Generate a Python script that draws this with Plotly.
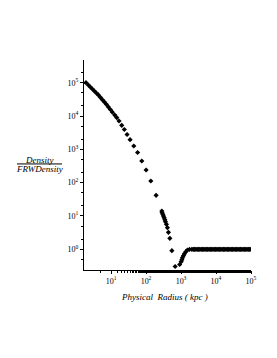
import plotly.graph_objects as go

# Physical radius (kpc) and density ratio
radius_core = [1.92, 2.24, 2.55, 2.92, 3.32, 3.80, 4.33, 4.94, 5.63, 6.43, 7.33, 8.37,
               9.55, 10.9, 12.8, 14.6, 16.9, 20.2, 24.0, 28.7, 35.0, 44.7, 57.4, 75.7,
               100.5, 137, 194]
density_core = [100000, 85300, 74300, 64700, 56300, 49100, 42800, 36500, 30900, 26400,
                22500, 18700, 15700, 13000, 10700, 8900, 7090, 5260, 3940, 2790, 1950,
                1260, 804, 447, 240, 112, 41.8]

radius_edge = [283, 288, 302, 314, 329, 345, 359, 383, 409, 437, 479, 547, 679]
density_edge = [14.1, 12.5, 11.2, 9.98, 8.87, 7.73, 6.73, 5.62, 4.45, 3.24, 2.14, 0.908, 0.305]

radius_rise = [914, 1010, 1057, 1100, 1175, 1254, 1377, 1528, 1745, 2042]
density_rise = [0.350, 0.425, 0.488, 0.560, 0.643, 0.738, 0.848, 0.953, 0.99, 1.0]

radius_flat = [2239, 2441, 2661, 2901, 3162, 3448, 3758, 4097, 4467, 4870, 5309, 5788,
               6310, 6879, 7499, 8175, 8913, 9716, 10593, 11548, 12589, 13725, 14962,
               16312, 17783, 19387, 21135, 23041, 25119, 27384, 29854, 32546, 35481,
               38681, 42170, 45973, 50119, 54639, 59566, 64938, 70795, 77179, 84140,
               91728, 100000]
density_flat = [1.0, 1.0, 1.0, 1.0, 1.0, 1.0, 1.0, 1.0, 1.0, 1.0, 1.0, 1.0, 1.0, 1.0, 1.0,
                1.0, 1.0, 1.0, 1.0, 1.0, 1.0, 1.0, 1.0, 1.0, 1.0, 1.0, 1.0, 1.0, 1.0, 1.0,
                1.0, 1.0, 1.0, 1.0, 1.0, 1.0, 1.0, 1.0, 1.0, 1.0, 1.0, 1.0, 1.0, 1.0, 1.0]

x_ticks = [10, 100, 1000, 10000, 100000]
x_tick_labels = ["10<sup>1</sup>", "10<sup>2</sup>", "10<sup>3</sup>", "10<sup>4</sup>", "10<sup>5</sup>"]
y_ticks = [1, 10, 100, 1000, 10000, 100000]
y_tick_labels = ["10<sup>0</sup>", "10<sup>1</sup>", "10<sup>2</sup>", "10<sup>3</sup>",
                 "10<sup>4</sup>", "10<sup>5</sup>"]

radius = radius_core + radius_edge + radius_rise + radius_flat
density = density_core + density_edge + density_rise + density_flat

serif = "Liberation Serif"

fig = go.Figure()
fig.add_trace(go.Scatter(
    x=radius, y=density, mode="markers",
    marker=dict(symbol="diamond", size=4, color="black", line=dict(width=0)),
    showlegend=False, hoverinfo="skip"))

minor_x = dict(ticks="outside", ticklen=2, tickcolor="black", showgrid=False)
minor_y = dict(ticks="outside", ticklen=2, tickcolor="black", showgrid=False)

fig.update_layout(
    width=269, height=350,
    margin=dict(l=76, r=26, t=52, b=88),
    paper_bgcolor="white", plot_bgcolor="white",
    font=dict(family=serif, size=8, color="black"),
    xaxis=dict(type="log", range=[0.227, 5.0], showgrid=False, zeroline=False,
               showline=True, linecolor="black", linewidth=1,
               tickvals=x_ticks, ticktext=x_tick_labels, ticks="outside", ticklen=3,
               tickcolor="black", tickfont=dict(family=serif, size=8),
               minor=minor_x),
    yaxis=dict(type="log", range=[-0.621, 5.681], showgrid=False, zeroline=False,
               showline=True, linecolor="black", linewidth=1,
               tickvals=y_ticks, ticktext=y_tick_labels, ticks="outside", ticklen=3,
               tickcolor="black", tickfont=dict(family=serif, size=8),
               minor=minor_y),
)

fig.add_annotation(text="<i>Density</i>", xref="paper", yref="paper",
                   x=-0.266, y=0.524, xanchor="center", yanchor="middle", showarrow=False,
                   font=dict(family=serif, size=9, color="black"))
fig.add_annotation(text="<i>FRWDensity</i>", xref="paper", yref="paper",
                   x=-0.266, y=0.480, xanchor="center", yanchor="middle", showarrow=False,
                   font=dict(family=serif, size=9, color="black"))
fig.add_shape(type="line", xref="paper", yref="paper",
              x0=(17 - 84) / 167, x1=(62 - 84) / 167, y0=0.505, y1=0.505,
              line=dict(color="black", width=1))
fig.add_annotation(text="<i>Physical  Radius ( kpc )</i>", xref="paper", yref="paper",
                   x=0.485, y=-0.127, xanchor="center", yanchor="middle", showarrow=False,
                   font=dict(family=serif, size=9, color="black"))

fig.write_html("out.html")
